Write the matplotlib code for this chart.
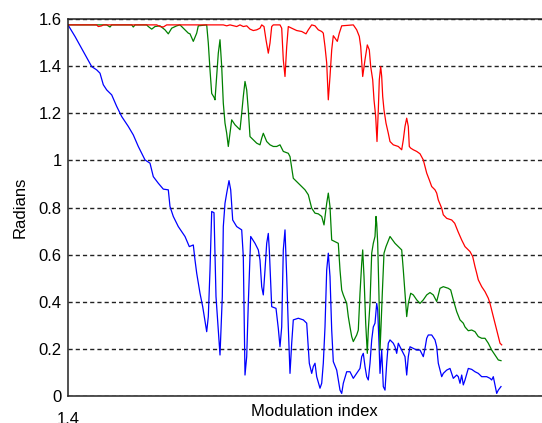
import matplotlib.pyplot as plt

# values (modulation index, radians)
blue_x = [1.400, 1.407, 1.4153, 1.4237, 1.4287, 1.432, 1.4353, 1.4387, 1.4437, 1.4487,
          1.4537, 1.4603, 1.4653, 1.4703, 1.477, 1.482, 1.4853, 1.4903, 1.4953, 1.5003,
          1.502, 1.5053, 1.5103, 1.517, 1.5213, 1.5253, 1.527, 1.5287, 1.532, 1.5347,
          1.5387, 1.5403, 1.542, 1.5437, 1.546, 1.548, 1.5503, 1.552, 1.5543, 1.5553,
          1.557, 1.5587, 1.561, 1.5627, 1.5647, 1.5687, 1.5737, 1.5753, 1.577, 1.5787,
          1.5803, 1.5827, 1.587, 1.5903, 1.592, 1.5937, 1.5953, 1.597, 1.5987, 1.6003,
          1.6013, 1.6037, 1.608, 1.6103, 1.612, 1.6137, 1.6153, 1.617, 1.6187, 1.6203,
          1.622, 1.6237, 1.6253, 1.6303, 1.6353, 1.6387, 1.6413, 1.6437, 1.6453, 1.647,
          1.6487, 1.652, 1.6537, 1.6553, 1.657, 1.6587, 1.6603, 1.662, 1.6637, 1.6653,
          1.6687, 1.672, 1.6737, 1.6753, 1.6787, 1.682, 1.6853, 1.6887, 1.692, 1.6937,
          1.6953, 1.697, 1.6987, 1.7003, 1.702, 1.7037, 1.7053, 1.707, 1.7087, 1.7097,
          1.711, 1.712, 1.7137, 1.7153, 1.717, 1.7187, 1.7203, 1.722, 1.7253, 1.727,
          1.7287, 1.7303, 1.732, 1.7353, 1.737, 1.7387, 1.7403, 1.742, 1.7453, 1.7487,
          1.752, 1.7537, 1.7553, 1.757, 1.7587, 1.7603, 1.7637, 1.767, 1.7687, 1.7703,
          1.772, 1.7737, 1.7753, 1.7787, 1.782, 1.7853, 1.7887, 1.7903, 1.792, 1.7937,
          1.7953, 1.797, 1.8003, 1.8037, 1.807, 1.8103, 1.8137, 1.8187, 1.822, 1.8237,
          1.8253, 1.827, 1.8287, 1.8303, 1.833]
blue_y = [1.575, 1.526, 1.462, 1.398, 1.384, 1.370, 1.321, 1.299, 1.278, 1.229,
          1.186, 1.144, 1.108, 1.059, 1.002, 0.988, 0.931, 0.903, 0.878, 0.875,
          0.804, 0.762, 0.719, 0.677, 0.634, 0.641, 0.577, 0.521, 0.436, 0.379,
          0.273, 0.337, 0.535, 0.783, 0.778, 0.422, 0.280, 0.174, 0.422, 0.719,
          0.818, 0.861, 0.914, 0.875, 0.747, 0.719, 0.705, 0.592, 0.089, 0.167,
          0.393, 0.677, 0.648, 0.620, 0.577, 0.464, 0.429, 0.535, 0.648, 0.690,
          0.620, 0.379, 0.372, 0.287, 0.209, 0.293, 0.620, 0.705, 0.507, 0.293,
          0.096, 0.224, 0.323, 0.330, 0.323, 0.309, 0.139, 0.096, 0.125, 0.139,
          0.082, 0.033, 0.054, 0.139, 0.293, 0.535, 0.606, 0.507, 0.280, 0.146,
          0.110, 0.025, 0.011, 0.054, 0.103, 0.103, 0.075, 0.096, 0.117, 0.167,
          0.181, 0.125, 0.082, 0.068, 0.139, 0.238, 0.293, 0.309, 0.393, 0.365,
          0.224, 0.096, 0.195, 0.040, 0.025, 0.139, 0.224, 0.238, 0.224, 0.209,
          0.181, 0.224, 0.209, 0.181, 0.167, 0.089, 0.167, 0.209, 0.202, 0.195,
          0.195, 0.181, 0.167, 0.202, 0.245, 0.259, 0.259, 0.238, 0.209, 0.139,
          0.110, 0.082, 0.096, 0.110, 0.117, 0.075, 0.089, 0.082, 0.054, 0.089,
          0.047, 0.068, 0.117, 0.113, 0.103, 0.096, 0.082, 0.082, 0.075, 0.068,
          0.082, 0.047, 0.011, 0.025, 0.040]

green_x = [1.400, 1.4387, 1.442, 1.4437, 1.4637, 1.4653, 1.467, 1.4787, 1.4803, 1.4837,
           1.487, 1.492, 1.497, 1.5003, 1.5037, 1.5087, 1.512, 1.5153, 1.5203, 1.522,
           1.5253, 1.5287, 1.5303, 1.5387, 1.5403, 1.542, 1.5437, 1.546, 1.547, 1.5487,
           1.5503, 1.552, 1.5537, 1.5553, 1.557, 1.5587, 1.5603, 1.562, 1.5637, 1.567,
           1.5703, 1.572, 1.5737, 1.5753, 1.577, 1.5787, 1.5803, 1.582, 1.5853, 1.5887,
           1.592, 1.5937, 1.5953, 1.5987, 1.602, 1.6053, 1.6087, 1.612, 1.6153, 1.6203,
           1.622, 1.6253, 1.6287, 1.632, 1.637, 1.6403, 1.642, 1.6437, 1.647, 1.6503,
           1.6537, 1.656, 1.6587, 1.6603, 1.662, 1.6637, 1.667, 1.6703, 1.672, 1.6737,
           1.6753, 1.6787, 1.6803, 1.682, 1.6837, 1.6853, 1.6887, 1.6903, 1.692, 1.6937,
           1.6947, 1.696, 1.6977, 1.6993, 1.7003, 1.702, 1.7037, 1.7053, 1.707, 1.708,
           1.7087, 1.7097, 1.711, 1.712, 1.713, 1.7143, 1.716, 1.718, 1.7193, 1.722,
           1.727, 1.7337, 1.7353, 1.737, 1.7387, 1.7403, 1.7427, 1.7453, 1.7487, 1.752,
           1.7553, 1.7587, 1.762, 1.7653, 1.7687, 1.7703, 1.772, 1.7753, 1.7803, 1.7827,
           1.7853, 1.7887, 1.792, 1.7953, 1.797, 1.8003, 1.8037, 1.807, 1.8103, 1.8137,
           1.817, 1.8203, 1.8237, 1.827, 1.8303, 1.833]
green_y = [1.575, 1.575, 1.566, 1.575, 1.575, 1.566, 1.575, 1.575, 1.568, 1.557,
           1.568, 1.571, 1.554, 1.537, 1.561, 1.571, 1.575, 1.561, 1.540, 1.537,
           1.505, 1.540, 1.571, 1.575, 1.498, 1.384, 1.284, 1.268, 1.257, 1.356,
           1.455, 1.512, 1.398, 1.243, 1.158, 1.115, 1.059, 1.115, 1.172, 1.151,
           1.137, 1.130, 1.200, 1.271, 1.335, 1.299, 1.214, 1.101, 1.087, 1.073,
           1.066, 1.094, 1.115, 1.080, 1.066, 1.059, 1.059, 1.066, 1.038, 1.030,
           1.016, 0.924, 0.910, 0.896, 0.875, 0.854, 0.825, 0.797, 0.776, 0.773,
           0.762, 0.726, 0.818, 0.861, 0.804, 0.662, 0.655, 0.648, 0.535, 0.450,
           0.429, 0.393, 0.337, 0.293, 0.252, 0.231, 0.259, 0.280, 0.436, 0.563,
           0.620, 0.507, 0.309, 0.181, 0.280, 0.393, 0.606, 0.648, 0.677, 0.762,
           0.733, 0.648, 0.422, 0.195, 0.293, 0.436, 0.606, 0.634, 0.648, 0.677,
           0.648, 0.620, 0.535, 0.436, 0.337, 0.393, 0.436, 0.429, 0.408, 0.393,
           0.408, 0.429, 0.439, 0.429, 0.401, 0.429, 0.457, 0.464, 0.457, 0.450,
           0.408, 0.358, 0.323, 0.309, 0.293, 0.277, 0.280, 0.273, 0.252, 0.245,
           0.245, 0.224, 0.195, 0.174, 0.153, 0.150]

red_x = [1.400, 1.4287, 1.4303, 1.4337, 1.4353, 1.4887, 1.492, 1.4953, 1.4987, 1.5553,
         1.5587, 1.562, 1.5687, 1.572, 1.5753, 1.5787, 1.582, 1.5853, 1.5887, 1.592,
         1.5937, 1.596, 1.598, 1.6003, 1.602, 1.6037, 1.6053, 1.612, 1.6137, 1.6153,
         1.617, 1.6187, 1.6203, 1.6237, 1.6287, 1.6337, 1.638, 1.6403, 1.6437, 1.647,
         1.6503, 1.6537, 1.6553, 1.657, 1.6587, 1.6603, 1.662, 1.6637, 1.6653, 1.667,
         1.6693, 1.6713, 1.6737, 1.6853, 1.6887, 1.6913, 1.6927, 1.6947, 1.697, 1.6993,
         1.7013, 1.7027, 1.7047, 1.706, 1.7077, 1.709, 1.7103, 1.7113, 1.7127, 1.7137,
         1.7147, 1.716, 1.718, 1.7203, 1.722, 1.7253, 1.7303, 1.7337, 1.7353, 1.737,
         1.7387, 1.7403, 1.7413, 1.7427, 1.7453, 1.7487, 1.752, 1.7553, 1.757, 1.7587,
         1.7613, 1.7637, 1.767, 1.7687, 1.7703, 1.7737, 1.7753, 1.7787, 1.7837, 1.7867,
         1.790, 1.7937, 1.797, 1.802, 1.8047, 1.807, 1.8087, 1.8103, 1.8137, 1.817,
         1.8203, 1.822, 1.8253, 1.8287, 1.832, 1.8337]
red_y = [1.575, 1.575, 1.568, 1.571, 1.575, 1.575, 1.568, 1.566, 1.575, 1.575,
         1.571, 1.575, 1.568, 1.575, 1.568, 1.571, 1.557, 1.551, 1.554, 1.561,
         1.575, 1.568, 1.512, 1.455, 1.498, 1.568, 1.575, 1.575, 1.561, 1.427,
         1.356, 1.483, 1.568, 1.561, 1.551, 1.547, 1.537, 1.554, 1.575, 1.571,
         1.554, 1.547, 1.540, 1.483, 1.413, 1.257, 1.356, 1.469, 1.529, 1.519,
         1.505, 1.540, 1.571, 1.575, 1.554, 1.526, 1.483, 1.356, 1.427, 1.490,
         1.469, 1.398, 1.342, 1.257, 1.186, 1.080, 1.214, 1.342, 1.398, 1.356,
         1.271, 1.214, 1.158, 1.115, 1.080, 1.066, 1.059, 1.045, 1.087, 1.144,
         1.179, 1.144, 1.059, 1.052, 1.045, 1.038, 1.028, 1.002, 0.974, 0.946,
         0.917, 0.889, 0.875, 0.861, 0.832, 0.797, 0.769, 0.754, 0.747, 0.733,
         0.698, 0.662, 0.634, 0.613, 0.592, 0.549, 0.521, 0.493, 0.464, 0.443,
         0.415, 0.393, 0.337, 0.280, 0.224, 0.217]

y_ticks = [0, 0.2, 0.4, 0.6, 0.8, 1, 1.2, 1.4, 1.6]
y_labels = ["0", "0.2", "0.4", "0.6", "0.8", "1", "1.2", "1.4", "1.6"]
x_ticks = [1.4, 1.9]
x_labels = ["1.4", "1.9"]

plt.rcParams['font.family'] = ['Liberation Sans', 'DejaVu Sans']

fig = plt.figure(figsize=(5.42, 4.23), dpi=100)
ax = fig.add_axes([68 / 542, 27 / 423, 500 / 542, 377 / 423])

ax.plot(blue_x, blue_y, color="#0000ff", linewidth=0.9)
ax.plot(green_x, green_y, color="#008000", linewidth=0.9)
ax.plot(red_x, red_y, color="#ff0000", linewidth=0.9)

ax.set_xlim(1.4, 1.9)
ax.set_ylim(0, 1.6)
ax.set_yticks(y_ticks)
ax.set_yticklabels(y_labels)
ax.set_xticks(x_ticks)
ax.set_xticklabels(x_labels)
ax.tick_params(axis="y", length=0, pad=4.5, labelsize=12)
ax.tick_params(axis="x", length=0, pad=11.5, labelsize=12)

ax.grid(True, axis="y", color="#222222", linestyle=(0, (3.0, 2.2)), linewidth=1.0)
ax.set_axisbelow(True)
for side in ["top", "left", "bottom", "right"]:
    ax.spines[side].set_linewidth(1.1)
    ax.spines[side].set_color("#222222")

ax.set_xlabel("Modulation index", fontsize=12)
ax.xaxis.set_label_coords(0.492, -0.04)
ax.xaxis.label.set_va("center")
ax.set_ylabel("Radians", fontsize=12)
ax.yaxis.set_label_coords(-0.096, 0.5)
ax.yaxis.label.set_va("center")

fig.savefig("out.png", dpi=100)
